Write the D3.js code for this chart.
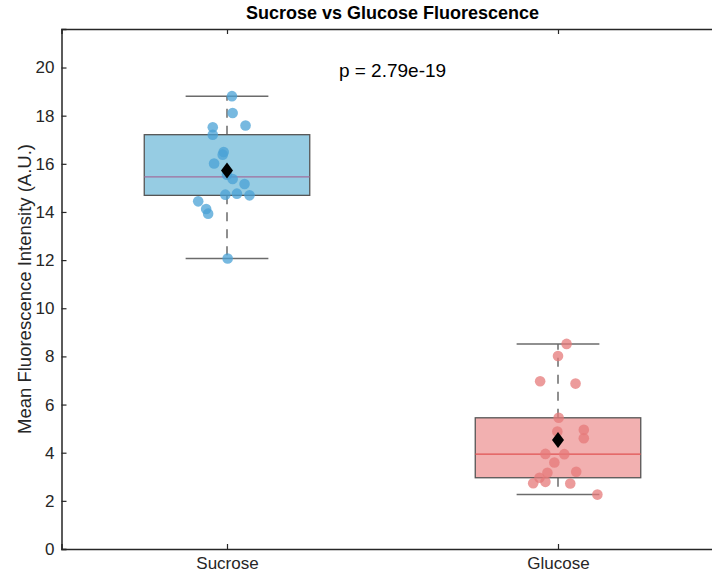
<!DOCTYPE html>
<html>
<head>
<meta charset="utf-8">
<script src="https://cdn.jsdelivr.net/npm/d3@7"></script>
<style>
  body { margin: 0; background: #fff; }
  svg { display: block; font-family: "Liberation Sans", Arial, sans-serif; }
</style>
</head>
<body>
<div id="chart"></div>
<script>
// données
const groups = ["Sucrose", "Glucose"];
const sucrose = [18.81, 18.11, 17.52, 17.59, 17.21, 16.49, 16.38, 16.01, 15.55, 15.37, 15.16, 14.76, 14.72, 14.69, 14.44, 14.12, 13.93, 12.07];
const sucroseJitter = [0.015, 0.017, -0.043, 0.056, -0.043, -0.010, -0.013, -0.039, 0.0, 0.017, 0.053, 0.030, -0.005, 0.068, -0.087, -0.063, -0.057, 0.002];
const glucose = [8.52, 8.02, 6.97, 6.87, 5.45, 4.95, 4.88, 4.60, 3.95, 3.94, 3.59, 3.17, 3.21, 2.96, 2.73, 2.79, 2.72, 2.26];
const glucoseJitter = [0.026, 0.0, -0.054, 0.053, 0.002, 0.078, -0.002, 0.078, -0.038, 0.019, -0.011, -0.032, 0.055, -0.056, -0.075, -0.038, 0.037, 0.119];
const yTicks = [0, 2, 4, 6, 8, 10, 12, 14, 16, 18, 20];
const pText = "p = 2.79e-19";

const width = 712, height = 576;
const margin = { top: 29, left: 62, bottom: 27 };

const svg = d3.select("#chart").append("svg")
  .attr("width", width).attr("height", height);

// échelles : x de 0.5 à 2.5 (coupé à droite comme sur l'original)
const xScale = d3.scaleLinear().domain([0.5, 2.5]).range([61.5, 723.5]);
const yScale = d3.scaleLinear().domain([0, 21.6]).range([height - margin.bottom, margin.top]);

// percentile façon MATLAB
function prctile(vals, p) {
  const s = vals.slice().sort((a, b) => a - b);
  const n = s.length;
  const pos = n * p + 0.5;
  if (pos <= 1) return s[0];
  if (pos >= n) return s[n - 1];
  const lo = Math.floor(pos);
  return s[lo - 1] + (pos - lo) * (s[lo] - s[lo - 1]);
}

const series = [
  { name: groups[0], values: sucrose, jitter: sucroseJitter, fill: "#96cce3", dot: "#4aa2d6", median: "#a06f9e" },
  { name: groups[1], values: glucose, jitter: glucoseJitter, fill: "#f2b0b0", dot: "#e67a7a", median: "#e05252" }
];

series.forEach((g, i) => {
  const xc = i + 1;
  const q1 = prctile(g.values, 0.25), q3 = prctile(g.values, 0.75), med = prctile(g.values, 0.5);
  const iqr = q3 - q1;
  const lo = d3.min(g.values.filter(v => v >= q1 - 1.5 * iqr));
  const hi = d3.max(g.values.filter(v => v <= q3 + 1.5 * iqr));
  const mean = d3.mean(g.values);
  const grp = svg.append("g");

  // moustaches
  grp.append("line")
    .attr("x1", xScale(xc)).attr("x2", xScale(xc))
    .attr("y1", yScale(q3)).attr("y2", yScale(hi))
    .attr("stroke", "#6b6b6b").attr("stroke-width", 1.5).attr("stroke-dasharray", "9,8");
  grp.append("line")
    .attr("x1", xScale(xc)).attr("x2", xScale(xc))
    .attr("y1", yScale(q1)).attr("y2", yScale(lo))
    .attr("stroke", "#6b6b6b").attr("stroke-width", 1.5).attr("stroke-dasharray", "9,8");
  [lo, hi].forEach(v => {
    grp.append("line")
      .attr("x1", xScale(xc - 0.125)).attr("x2", xScale(xc + 0.125))
      .attr("y1", yScale(v)).attr("y2", yScale(v))
      .attr("stroke", "#6b6b6b").attr("stroke-width", 1.5);
  });

  // boîte
  grp.append("rect")
    .attr("x", xScale(xc - 0.25)).attr("width", xScale(xc + 0.25) - xScale(xc - 0.25))
    .attr("y", yScale(q3)).attr("height", yScale(q1) - yScale(q3))
    .attr("fill", g.fill).attr("stroke", "#555").attr("stroke-width", 1.3);
  grp.append("line")
    .attr("x1", xScale(xc - 0.25)).attr("x2", xScale(xc + 0.25))
    .attr("y1", yScale(med)).attr("y2", yScale(med))
    .attr("stroke", g.median).attr("stroke-width", 1.2);

  // points
  grp.selectAll("circle")
    .data(g.values)
    .join("circle")
    .attr("cx", (d, j) => xScale(xc + g.jitter[j]))
    .attr("cy", d => yScale(d))
    .attr("r", 5.3)
    .attr("fill", g.dot)
    .attr("fill-opacity", 0.75);

  // moyenne
  const mx = xScale(xc), my = yScale(mean);
  grp.append("path")
    .attr("d", `M${mx},${my - 8}L${mx + 6},${my}L${mx},${my + 8}L${mx - 6},${my}Z`)
    .attr("fill", "#000");
});

// axes
const axisColor = "#262626";
const yAxis = d3.axisLeft(yScale).tickValues(yTicks).tickSize(-5).tickPadding(7);
svg.append("g")
  .attr("transform", `translate(${xScale(0.5)},0)`)
  .call(yAxis)
  .call(g => g.select(".domain").attr("stroke", axisColor).attr("stroke-width", 1.5))
  .call(g => g.selectAll(".tick line").attr("stroke", axisColor).attr("stroke-width", 1.2))
  .call(g => g.selectAll("text").attr("font-size", 17).attr("fill", "#262626")
    .attr("font-family", "'Liberation Sans', Arial, sans-serif"));

const xAxis = d3.axisBottom(xScale).tickValues([1, 2]).tickFormat((d, i) => groups[i]).tickSize(-5).tickPadding(8);
svg.append("g")
  .attr("transform", `translate(0,${yScale(0)})`)
  .call(xAxis)
  .call(g => g.select(".domain").attr("stroke", axisColor).attr("stroke-width", 1.5))
  .call(g => g.selectAll(".tick line").attr("stroke", axisColor).attr("stroke-width", 1.2))
  .call(g => g.selectAll("text").attr("font-size", 17).attr("fill", "#262626")
    .attr("font-family", "'Liberation Sans', Arial, sans-serif"));

const xTop = d3.axisTop(xScale).tickValues([1, 2]).tickFormat("").tickSize(-5);
svg.append("g")
  .attr("transform", `translate(0,${yScale(21.6)})`)
  .call(xTop)
  .call(g => g.select(".domain").attr("stroke", axisColor).attr("stroke-width", 1.5))
  .call(g => g.selectAll(".tick line").attr("stroke", axisColor).attr("stroke-width", 1.2));

// titre, libellés
svg.append("text")
  .attr("x", xScale(1.5)).attr("y", 19)
  .attr("text-anchor", "middle")
  .attr("font-size", 18).attr("font-weight", "bold").attr("fill", "#000")
  .text("Sucrose vs Glucose Fluorescence");

svg.append("text")
  .attr("transform", `translate(31,${yScale(10.8)}) rotate(-90)`)
  .attr("text-anchor", "middle")
  .attr("font-size", 18.5).attr("fill", "#262626")
  .text("Mean Fluorescence Intensity (A.U.)");

svg.append("text")
  .attr("x", xScale(1.5)).attr("y", yScale(19.6))
  .attr("text-anchor", "middle")
  .attr("font-size", 19).attr("fill", "#000")
  .text(pText);
</script>
</body>
</html>
